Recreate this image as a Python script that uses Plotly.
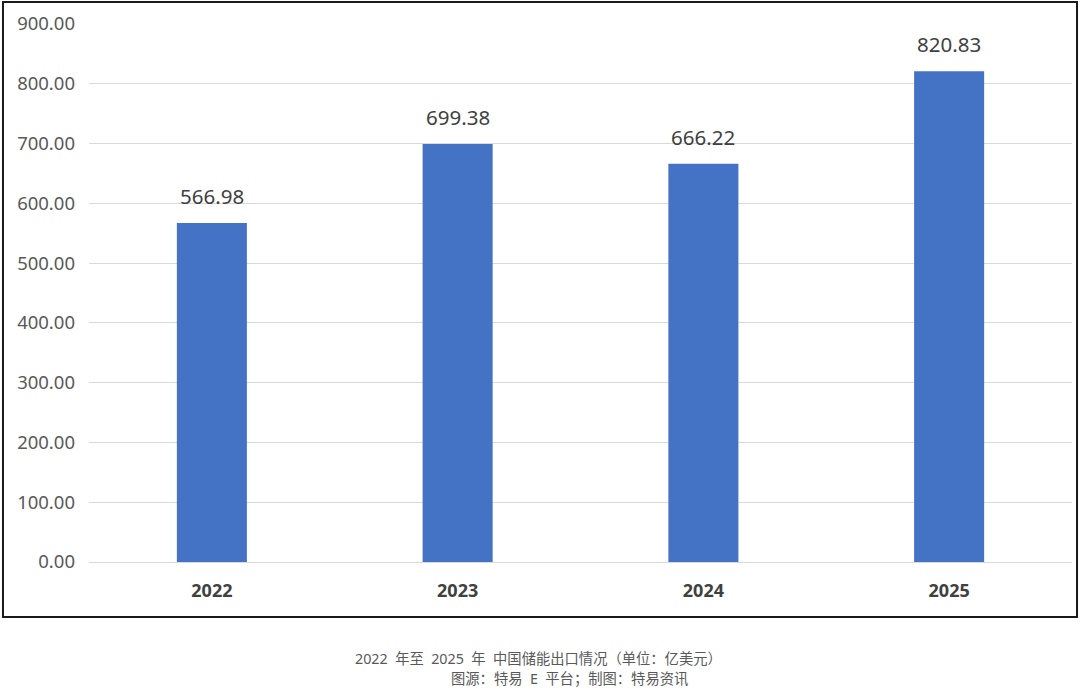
import plotly.graph_objects as go

# 中国储能出口（亿美元）
years = ["2022", "2023", "2024", "2025"]
export_values = [566.98, 699.38, 666.22, 820.83]
y_ticks = [0, 100, 200, 300, 400, 500, 600, 700, 800, 900]

caption_line1 = "2022  年至  2025  年  中国储能出口情况（单位：亿美元）"
caption_line2 = "图源：特易  E  平台；制图：特易资讯"

BAR_COLOR = "#4472C4"
FONT = "Noto Sans, Noto Sans CJK SC, sans-serif"

fig = go.Figure()
fig.add_trace(go.Bar(
    x=years,
    y=export_values,
    marker=dict(color=BAR_COLOR, line=dict(width=0)),
    width=0.285,
    hoverinfo="x+y",
))

# value labels above each bar (category index keeps plotly from reading "2022" as a number)
for i, val in enumerate(export_values):
    fig.add_annotation(
        x=i, y=val, text=f"{val:.2f}", showarrow=False,
        yshift=27, font=dict(size=20.5, color="#404040", family=FONT),
    )

# outer frame around the chart
fig.add_shape(
    type="rect", xref="paper", yref="paper",
    x0=-0.0875, x1=1.0051, y0=-0.1022, y1=1.0409,
    line=dict(color="#1a1a1a", width=2), fillcolor="rgba(0,0,0,0)", layer="above",
)

fig.add_annotation(
    xref="paper", yref="paper", x=(538 - 89) / 983, y=(562 - 658) / 538,
    text=caption_line1, showarrow=False, xanchor="center", yanchor="middle",
    font=dict(size=14.3, color="#595959", family=FONT),
)
fig.add_annotation(
    xref="paper", yref="paper", x=(569 - 89) / 983, y=(562 - 678) / 538,
    text=caption_line2, showarrow=False, xanchor="center", yanchor="middle",
    font=dict(size=14.3, color="#595959", family=FONT),
)

fig.update_layout(
    width=1080, height=695,
    margin=dict(l=89, r=8, t=24, b=133),
    paper_bgcolor="white", plot_bgcolor="white",
    showlegend=False,
    font=dict(family=FONT),
)
fig.update_xaxes(
    type="category", range=[-0.5, 3.5], automargin=False,
    showgrid=False, showline=False, zeroline=False,
    ticks="", ticklabelstandoff=16,
    tickfont=dict(size=18, color="#404040", family="Noto Sans, sans-serif", weight="bold"),
)
fig.update_yaxes(
    range=[0, 900], tickvals=y_ticks, tickformat=".2f", automargin=False,
    showgrid=True, gridcolor="#d9d9d9", gridwidth=1,
    zeroline=True, zerolinecolor="#d9d9d9", zerolinewidth=1,
    showline=False, ticks="", ticklabelstandoff=13,
    tickfont=dict(size=18.5, color="#595959", family=FONT),
)

# drop the default 8px body margin so the figure sits at the page corner
fig.write_html(
    "out.html",
    config={"displayModeBar": False},
    post_script="document.body.style.margin='0px';",
)
